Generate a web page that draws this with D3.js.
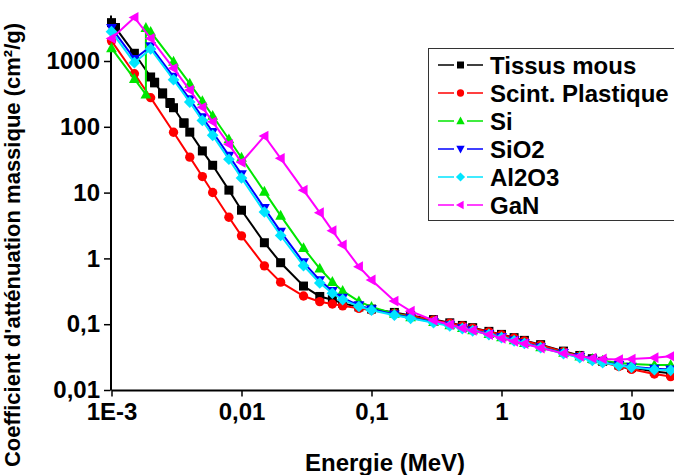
<!DOCTYPE html>
<html><head><meta charset="utf-8">
<script src="https://cdn.jsdelivr.net/npm/d3@7"></script>
<style>html,body{margin:0;padding:0;background:#fff;overflow:hidden}
text{font-family:"Liberation Sans",Arial,sans-serif;font-weight:bold;fill:#000}</style>
</head><body><svg id="c" width="674" height="475"></svg>
<script>
// ---------- DATA (energy in MeV, mass attenuation in cm2/g) ----------
const gridE = [0.001,0.0015,0.002,0.003,0.004,0.005,0.006,0.008,0.01,0.015,0.02,0.03,0.04,0.05,0.06,0.08,0.1,0.15,0.2,0.3,0.4,0.5,0.6,0.8,1,1.25,1.5,2,3,4,5,6,8,10,15,20];

const tissueE = [0.001,0.0010721,0.0010721,0.0015,0.002,0.0021455,0.0021455,0.002472,0.002472,0.0028224,0.0028224,0.003,0.0036074,0.0036074,0.004,0.005,0.006,0.008,0.01,0.015,0.02,0.03,0.04,0.05,0.06,0.08,0.1,0.15,0.2,0.3,0.4,0.5,0.6,0.8,1,1.25,1.5,2,3,4,5,6,8,10,15,20];
const tissueMu = [3829,3191,3224,1310,572,465,476,315,328,226,234,195,113,115,83,43,26,10.9,5.4,1.73,0.86,0.38,0.264,0.236,0.207,0.183,0.170,0.151,0.136,0.1175,0.1049,0.0958,0.0886,0.0778,0.0700,0.0625,0.0568,0.0489,0.0390,0.0335,0.0299,0.0273,0.0239,0.0219,0.0191,0.0179];

const plastiqueMu = [2024,641,277,82.7,34.6,17.53,10.05,4.22,2.204,0.7705,0.4358,0.268,0.220,0.203,0.190,0.174,0.163,0.146,0.1335,0.1152,0.1032,0.0943,0.0872,0.0766,0.0689,0.0616,0.0559,0.0480,0.0382,0.0327,0.0290,0.0264,0.0228,0.0206,0.0175,0.0160];

const siE = [0.001,0.0015,0.0018389,0.0018389,0.002,0.003,0.004,0.005,0.006,0.008,0.01,0.015,0.02,0.03,0.04,0.05,0.06,0.08,0.1,0.15,0.2,0.3,0.4,0.5,0.6,0.8,1,1.25,1.5,2,3,4,5,6,8,10,15,20];
const siMu = [1570,535.5,309.2,3192,2777,978.4,452.9,245.0,147.0,64.68,33.89,10.34,4.464,1.436,0.7012,0.4385,0.3207,0.2228,0.1835,0.1448,0.1275,0.1082,0.09614,0.08748,0.08077,0.07082,0.06361,0.05688,0.05183,0.04480,0.03678,0.03240,0.02967,0.02788,0.0258,0.0248,0.0240,0.0240];

const sio2Mu = [3178,1075,1668,572.9,261.3,140,83.5,36.4,19.0,5.81,2.547,0.872,0.4654,0.3186,0.2515,0.1935,0.1684,0.1402,0.1255,0.1076,0.0959,0.0874,0.0807,0.0708,0.0637,0.0569,0.0518,0.0447,0.0363,0.0317,0.0287,0.0266,0.0240,0.0226,0.0210,0.0205];

const al2o3Mu = [2788,942,1525,519,237.3,124.9,74.1,32.1,16.68,5.075,2.228,0.775,0.4226,0.2952,0.2368,0.1858,0.1632,0.1370,0.1229,0.1056,0.0941,0.0858,0.0793,0.0696,0.0625,0.0559,0.0509,0.0439,0.0357,0.0310,0.0281,0.0261,0.0235,0.0221,0.0204,0.0199];

const ganMu = [2200,4600,2200,774,362,198,119,54.2,28.9,72.4,33.2,10.9,4.96,2.64,1.60,0.748,0.47,0.225,0.158,0.114,0.0985,0.087,0.0805,0.0695,0.061,0.055,0.0505,0.0435,0.0360,0.0325,0.0305,0.0297,0.0290,0.0295,0.0310,0.0325];

const seriesNames = ["Tissus mous","Scint. Plastique","Si","SiO2","Al2O3","GaN"];
const seriesColors = ["#000000","#ff0000","#00e600","#0000ff","#00e5ff","#ff00ff"];
const seriesMarkers = ["square","circle","triUp","triDown","diamond","triLeft"];

const xMajorTicks = [0.001,0.01,0.1,1,10];
const xTickLabels = ["1E-3","0,01","0,1","1","10"];
const yMajorTicks = [0.01,0.1,1,10,100,1000];
const yTickLabels = ["0,01","0,1","1","10","100","1000"];
const xTitle = "Energie (MeV)";
const yTitle = "Coefficient d'atténuation massique (cm²/g)";

// ---------- CHART ----------
const svg = d3.select("#c");
const x = d3.scaleLog().domain([1e-3, 30]).range([111.5, 111.5 + 130*Math.log10(30000)]);
const y = d3.scaleLog().domain([0.01, 5000]).range([390, 390 - 65.8*Math.log10(500000)]);

const xMinor = [], yMinor = [];
xMajorTicks.forEach(d => { for (let k=2;k<=9;k++){ const v=k*d; if (v<=30) xMinor.push(v);} });
[0.01,0.1,1,10,100,1000].forEach(d => { for (let k=2;k<=9;k++){ const v=k*d; if (v<=5000) yMinor.push(v);} });

// axes
const gx = svg.append("g").attr("transform","translate(0,390)");
gx.call(d3.axisBottom(x).tickValues(xMinor).tickSize(3.5).tickSizeOuter(0).tickFormat(""));
gx.call(d3.axisBottom(x).tickValues(xMajorTicks).tickSize(6.5).tickSizeOuter(0).tickPadding(6)
  .tickFormat((d,i)=>xTickLabels[i]));
const gy = svg.append("g").attr("transform","translate(110.5,0)");
gy.call(d3.axisLeft(y).tickValues(yMinor).tickSize(3.5).tickSizeOuter(0).tickFormat(""));
gy.call(d3.axisLeft(y).tickValues(yMajorTicks).tickSize(6.5).tickSizeOuter(0).tickPadding(4)
  .tickFormat((d,i)=>yTickLabels[i]));
svg.selectAll(".domain").attr("stroke","#000").attr("stroke-width",2);
svg.selectAll(".tick line").attr("stroke","#000").attr("stroke-width",1.5);
svg.selectAll(".tick text").attr("font-size",24).attr("font-family","Liberation Sans, Arial, sans-serif").attr("font-weight","bold").attr("fill","#000");

// titles
svg.append("text").attr("x",385).attr("y",471).attr("text-anchor","middle").attr("font-size",24).text(xTitle);
svg.append("text").attr("transform","translate(20,245) rotate(-90)").attr("text-anchor","middle").attr("font-size",22).text(yTitle);

// markers
function markerPath(type, s){
  const p = d3.path();
  if (type==="square"){ p.rect(-s*0.5,-s*0.5,s,s); }
  else if (type==="circle"){ p.arc(0,0,s*0.52,0,2*Math.PI); }
  else if (type==="triUp"){ p.moveTo(0,-s*0.65); p.lineTo(s*0.6,s*0.45); p.lineTo(-s*0.6,s*0.45); p.closePath(); }
  else if (type==="triDown"){ p.moveTo(0,s*0.65); p.lineTo(s*0.6,-s*0.45); p.lineTo(-s*0.6,-s*0.45); p.closePath(); }
  else if (type==="triLeft"){ p.moveTo(-s*0.65,0); p.lineTo(s*0.45,-s*0.6); p.lineTo(s*0.45,s*0.6); p.closePath(); }
  else if (type==="diamond"){ p.moveTo(0,-s*0.65); p.lineTo(s*0.65,0); p.lineTo(0,s*0.65); p.lineTo(-s*0.65,0); p.closePath(); }
  return p.toString();
}

const seriesE = [tissueE, gridE, siE, gridE, gridE, gridE];
const seriesMu = [tissueMu, plastiqueMu, siMu, sio2Mu, al2o3Mu, ganMu];
const line = d3.line().x(d=>x(d[0])).y(d=>y(d[1]));

seriesNames.forEach((name,i)=>{
  const data = seriesE[i].map((e,j)=>[e, seriesMu[i][j]]);
  const g = svg.append("g");
  g.append("path").datum(data).attr("d",line).attr("fill","none")
    .attr("stroke",seriesColors[i]).attr("stroke-width",2);
  g.selectAll("path.m").data(data).enter().append("path").attr("class","m")
    .attr("transform",d=>`translate(${x(d[0])},${y(d[1])})`)
    .attr("d",markerPath(seriesMarkers[i], 9)).attr("fill",seriesColors[i]);
});

// legend
const lg = svg.append("g");
lg.append("rect").attr("x",428.5).attr("y",48.5).attr("width",260).attr("height",172)
  .attr("fill","#fff").attr("stroke","#333").attr("stroke-width",1);
seriesNames.forEach((name,i)=>{
  const cy = 65 + i*28;
  lg.append("line").attr("x1",438).attr("x2",483).attr("y1",cy).attr("y2",cy)
    .attr("stroke",seriesColors[i]).attr("stroke-width",1.5);
  lg.append("rect").attr("x",454).attr("y",cy-3).attr("width",13).attr("height",6).attr("fill","#fff");
  lg.append("path").attr("transform",`translate(460.5,${cy})`).attr("d",markerPath(seriesMarkers[i],7))
    .attr("fill",seriesColors[i]);
  lg.append("text").attr("x",490).attr("y",cy+8.5).attr("font-size",24).text(name);
});
</script></body></html>
